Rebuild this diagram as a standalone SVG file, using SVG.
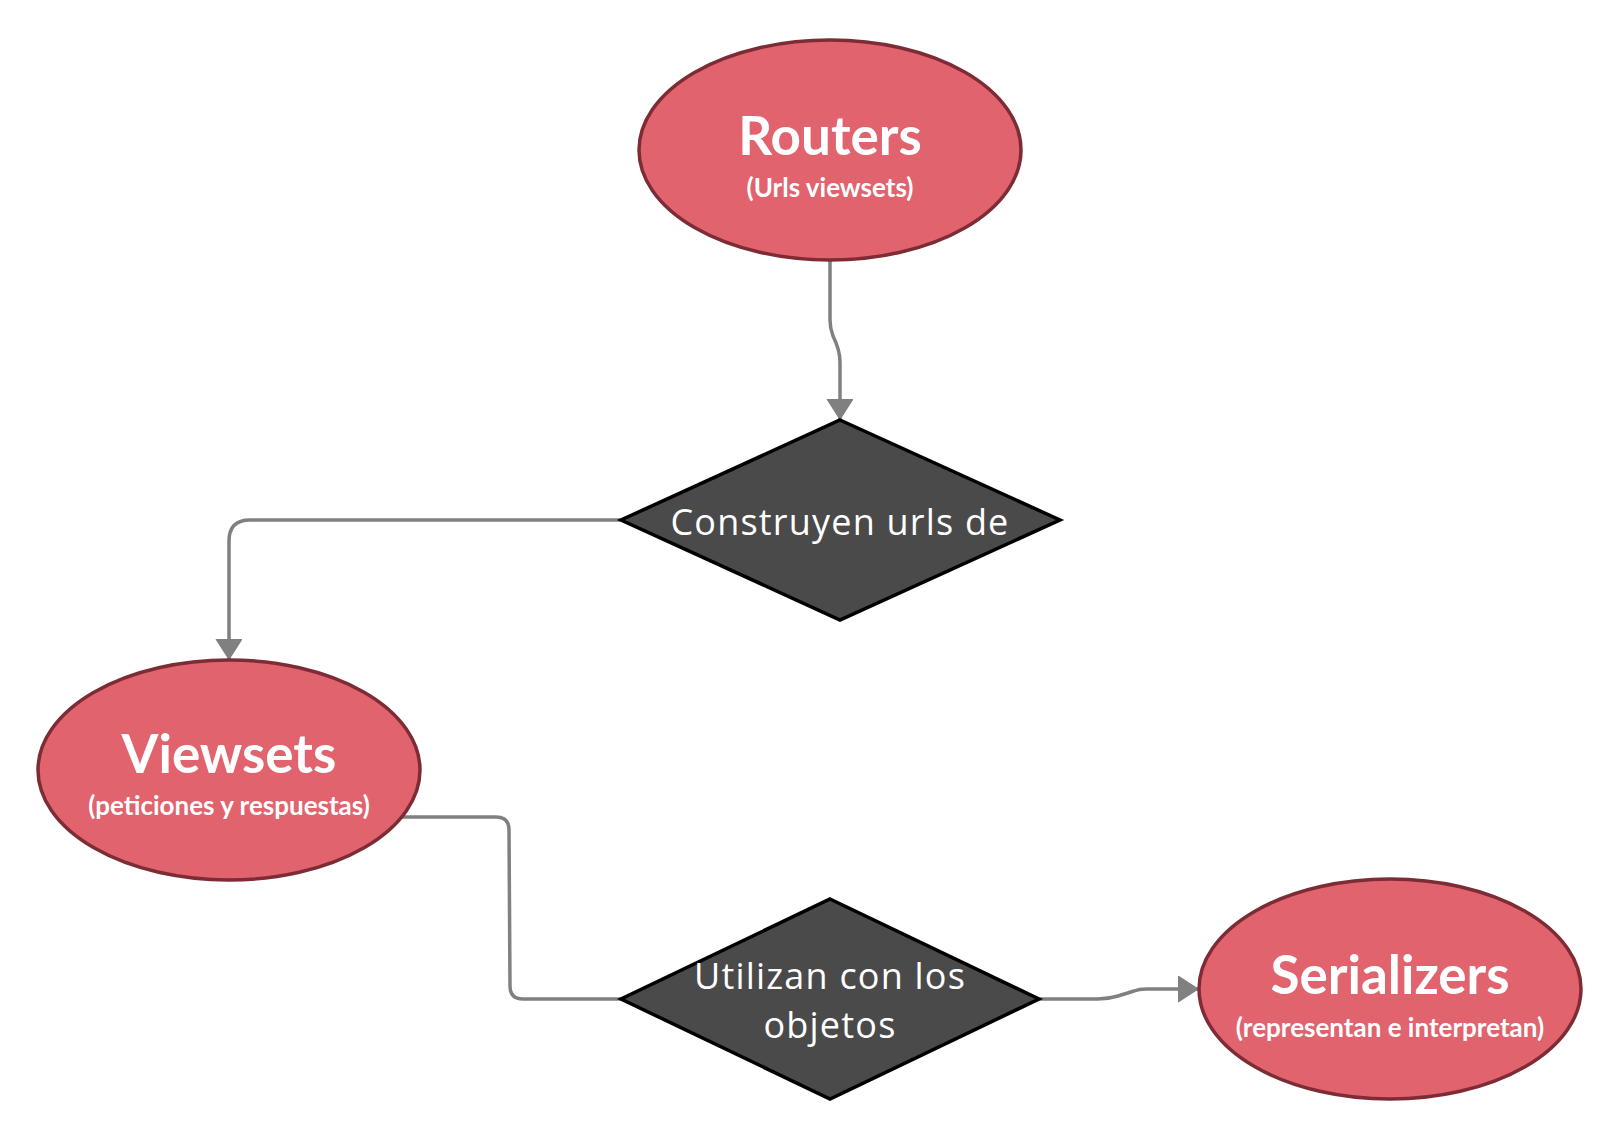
<svg xmlns="http://www.w3.org/2000/svg" width="1620" height="1140" viewBox="0 0 1620 1140">
<defs>
<style>
.ell{fill:#E0636E;stroke:#7D2C36;stroke-width:3.5}
.dia{fill:#4A4A4A;stroke:#000;stroke-width:3.5;stroke-linejoin:miter}
.title{font-family:Lato,"Liberation Sans",sans-serif;font-weight:bold;font-size:53px;fill:#fff;text-anchor:middle}
.sub{font-family:Lato,"Liberation Sans",sans-serif;font-weight:bold;font-size:26px;fill:#fff;text-anchor:middle}
.dt{font-family:"Open Sans","Noto Sans",sans-serif;font-size:36px;fill:#fff;text-anchor:middle;letter-spacing:1.2px}
.con{fill:none;stroke:#808080;stroke-width:3.5}
</style>
<marker id="arr" markerWidth="10" markerHeight="10" refX="5.6" refY="3.8" orient="auto" markerUnits="strokeWidth">
<path d="M0,0.2 L5.6,3.8 L0,7.4 Z" fill="#808080" stroke="#808080" stroke-width="0.4" stroke-linejoin="round"/>
</marker>
</defs>
<rect width="1620" height="1140" fill="#fff"/>
<g id="connectors">
<path class="con" d="M830,260 L830,320 Q830,328 833,336 Q840,350 840,362 L840,419" marker-end="url(#arr)"/>
<path class="con" d="M621,520 L250,520 Q229,520 229,541 L229,659" marker-end="url(#arr)"/>
<path class="con" d="M401,817 L496,817 Q509,817 509,830 L510,986 Q510,999 523,999 L621,999"/>
<path class="con" d="M1039,999 L1098,999 Q1108,999 1118,996 Q1128,993 1134,991 Q1139,989 1146,989 L1198,989" marker-end="url(#arr)"/>
</g>
<g id="routers">
<ellipse class="ell" cx="830" cy="150" rx="191" ry="110"/>
<text class="title" x="830" y="155">Routers</text>
<text class="sub" x="830" y="197">(Urls viewsets)</text>
</g>
<g id="construyen">
<polygon class="dia" points="840,420 1060,520 840,620 621,520"/>
<text class="dt" x="840" y="535">Construyen urls de</text>
</g>
<g id="viewsets">
<ellipse class="ell" cx="229" cy="770" rx="191" ry="110"/>
<text class="title" x="229" y="773">Viewsets</text>
<text class="sub" x="229" y="815">(peticiones y respuestas)</text>
</g>
<g id="utilizan">
<polygon class="dia" points="830,899 1039,999 830,1099 621,999"/>
<text class="dt" x="830" y="989">Utilizan con los</text>
<text class="dt" x="830" y="1038">objetos</text>
</g>
<g id="serializers">
<ellipse class="ell" cx="1390" cy="989" rx="191" ry="110"/>
<text class="title" x="1390" y="994">Serializers</text>
<text class="sub" x="1390" y="1037">(representan e interpretan)</text>
</g>
</svg>
